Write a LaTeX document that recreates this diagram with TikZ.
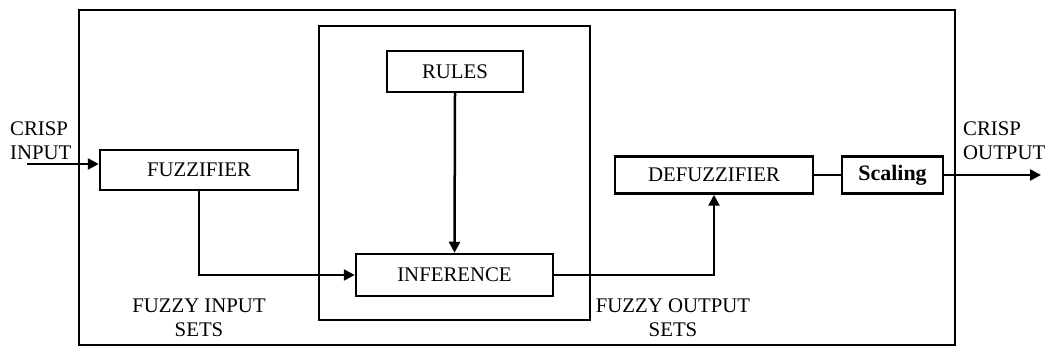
\documentclass[tikz,border=0pt]{standalone}
\usepackage{fontspec}
\setmainfont{Liberation Serif}
\usetikzlibrary{arrows.meta}

\tikzset{
  block/.style={draw, line width=2.5pt, rectangle, inner sep=0pt, align=center},
  label/.style={inner sep=0pt, align=center},
  flow/.style={line width=2.5pt, -{Triangle[length=11pt,width=11pt]}},
  link/.style={line width=2.5pt}
}

\begin{document}
\begin{tikzpicture}[x=1pt, y=-1pt, font=\fontsize{20.8pt}{24pt}\selectfont]
  \useasboundingbox (0,0) rectangle (1048,352);

  % Frames
  \draw[line width=2.5pt] (79,10) rectangle (955,345);
  \draw[line width=2.5pt] (319,26) rectangle (590,320);

  % Blocks with manual coordinates
  \node[block, minimum width=198pt, minimum height=40pt] (fuzz) at (199,170) {FUZZIFIER};
  \node[block, minimum width=136pt, minimum height=41pt] (rules) at (455,71.5) {RULES};
  \node[block, minimum width=197pt, minimum height=42pt] (infer) at (454.5,275) {INFERENCE};
  \node[block, minimum width=198pt, minimum height=37pt] (defuzz) at (714,175) {DEFUZZIFIER};
  \node[block, minimum width=101pt, minimum height=37pt, font=\fontsize{22pt}{24pt}\selectfont\bfseries] (scal) at (892.5,175) {Scaling};

  % Loose ends
  \coordinate (in) at (27,164);
  \coordinate (out) at (1041,175);

  % Labels
  \node[label, anchor=west, align=left] (crispin) at (10,141) {CRISP\\INPUT};
  \node[label, anchor=west, align=left] (crispout) at (963,141) {CRISP\\OUTPUT};
  \node[label] (fzin) at (199,318) {FUZZY INPUT\\SETS};
  \node[label] (fzout) at (673,318) {FUZZY OUTPUT\\SETS};

  % Edges
  \draw[flow] (in) -- (in -| fuzz.west);
  \draw[flow] (fuzz.south) |- (infer.west);
  \draw[flow] (rules.south) -- (infer.north);
  \draw[flow] (infer.east) -| (defuzz.south);
  \draw[link] (defuzz.east) -- (scal.west);
  \draw[flow] (scal.east) -- (scal.east -| out);
\end{tikzpicture}
\end{document}
